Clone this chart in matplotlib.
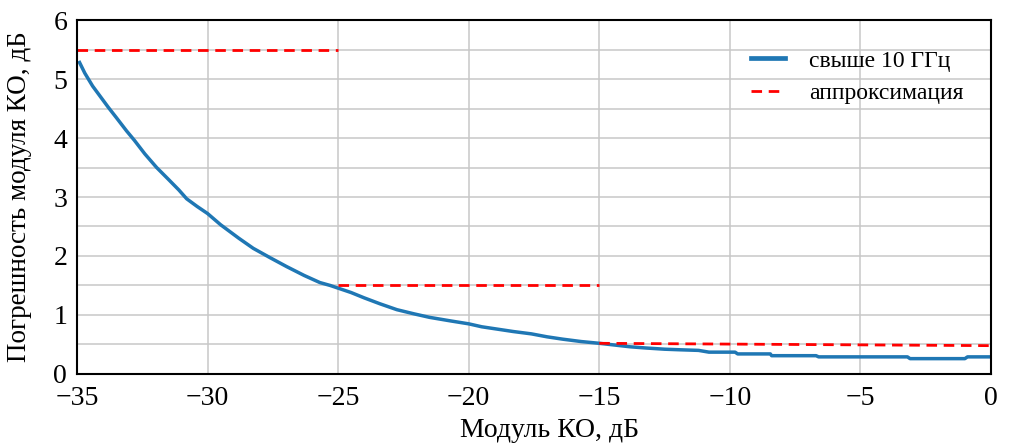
import matplotlib
matplotlib.use("Agg")
import matplotlib.pyplot as plt
from matplotlib.ticker import MultipleLocator

# measured curve (above 10 GHz)
meas_x = [-34.9, -34.7, -34.4, -34.1, -33.8, -33.5, -33.1, -32.8, -32.4, -31.95,
          -31.5, -31.1, -30.8, -30.4, -30.0, -29.5, -28.8, -28.25, -27.6, -26.97,
          -26.3, -25.7, -25.3, -24.5, -24.0, -23.4, -22.75, -22.1, -21.5, -20.7,
          -20.0, -19.5, -18.9, -18.3, -17.6, -17.0, -16.4, -15.7, -15.0, -14.4,
          -13.8, -13.2, -12.5, -11.9, -11.2, -10.8, -9.8, -9.7, -8.45, -8.4,
          -6.7, -6.6, -3.2, -3.1, -1.0, -0.9, 0.0]
meas_y = [5.28, 5.10, 4.88, 4.70, 4.52, 4.35, 4.12, 3.96, 3.73, 3.50,
          3.30, 3.12, 2.97, 2.84, 2.72, 2.53, 2.30, 2.13, 1.97, 1.82,
          1.67, 1.55, 1.50, 1.38, 1.29, 1.19, 1.09, 1.02, 0.96, 0.90,
          0.85, 0.80, 0.76, 0.72, 0.68, 0.63, 0.59, 0.55, 0.52, 0.49,
          0.46, 0.44, 0.42, 0.41, 0.40, 0.37, 0.37, 0.34, 0.34, 0.31,
          0.31, 0.29, 0.29, 0.26, 0.26, 0.29, 0.29]

# piecewise approximation
approx_segments = [
    ([-35, -25], [5.5, 5.5]),
    ([-25, -15], [1.5, 1.5]),
    ([-15, 0], [0.52, 0.48]),
]

plt.rcParams["font.family"] = ["Liberation Serif", "DejaVu Serif"]
plt.rcParams["axes.unicode_minus"] = True

fig = plt.figure(figsize=(10.1, 4.45), dpi=100)
ax = fig.add_axes([0.0762, 0.1596, 0.905, 0.7954])

ax.plot(meas_x, meas_y, color="#1f77b4", lw=2.5, label="свыше 10 ГГц", zorder=3)
for i, (sx, sy) in enumerate(approx_segments):
    ax.plot(sx, sy, color="red", lw=2, ls=(0, (3.8, 2.4)),
            label="аппроксимация" if i == 0 else None, zorder=4)

ax.set_xlim(-35, 0)
ax.set_ylim(0, 6)
ax.xaxis.set_major_locator(MultipleLocator(5))
ax.yaxis.set_major_locator(MultipleLocator(1))
ax.yaxis.set_minor_locator(MultipleLocator(0.5))
ax.grid(True, which="both", color="#c8c8c8", lw=1.1)
ax.set_axisbelow(True)
ax.tick_params(which="both", length=0, labelsize=20)
ax.tick_params(axis="x", pad=9)
ax.tick_params(axis="y", pad=7)
for s in ax.spines.values():
    s.set_linewidth(1.5)
    s.set_zorder(5)

ax.set_xlabel("Модуль КО, дБ", fontsize=20)
ax.xaxis.set_label_coords(0.517, -0.125)
ax.set_ylabel("Погрешность модуля КО, дБ", fontsize=19.5)
ax.yaxis.set_label_coords(-0.049, 0.5)

leg = ax.legend(loc="upper right", bbox_to_anchor=(0.993, 0.975), frameon=False,
                fontsize=17, handlelength=1.45, handletextpad=1.0, labelspacing=0.45)
leg.get_lines()[0].set_linewidth(3.4)

fig.savefig("out.png", dpi=100)
